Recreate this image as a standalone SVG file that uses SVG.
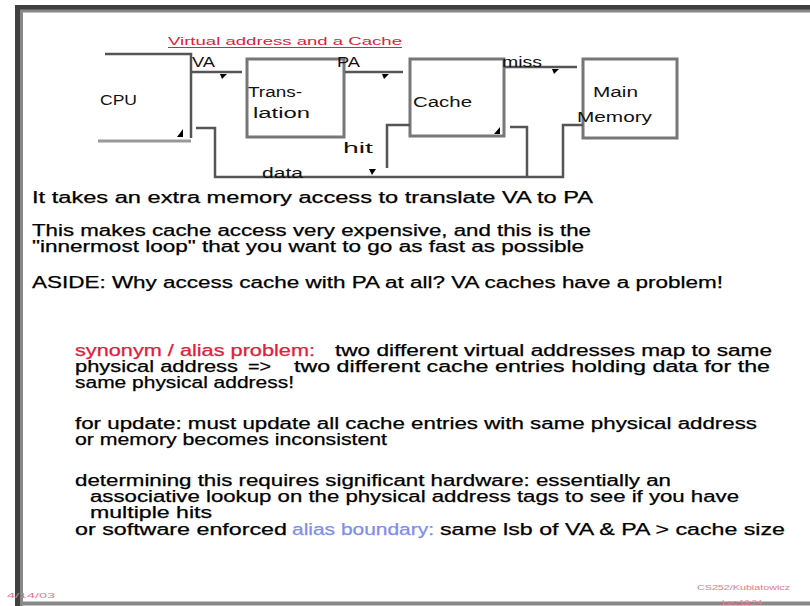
<svg xmlns="http://www.w3.org/2000/svg" width="810" height="606" viewBox="0 0 810 606">
<style>
.t{font-family:"Liberation Sans",Arial,sans-serif;font-size:16px;fill:#000;stroke:#000;stroke-width:0.25}
.d{font-family:"Liberation Sans",Arial,sans-serif;font-size:14px;fill:#111}
.box{fill:#fff;stroke:#777;stroke-width:3}
.ln{fill:none;stroke:#555;stroke-width:2.5}
.ah{fill:#000}
.red{fill:#e0203c;stroke:#e0203c}
.blue{fill:#7f8fe8;stroke:#7f8fe8}
.ft{font-family:"Liberation Sans",Arial,sans-serif;font-size:8px;fill:#e87890}
</style>
<rect width="810" height="606" fill="#fff"/>
<g id="frame">
<path d="M17.5 606 V7.5 H810" fill="none" stroke="#404040" stroke-width="5"/>
<path d="M21.5 606 V11 H810" fill="none" stroke="#888" stroke-width="3"/>
<line x1="20" y1="603.5" x2="810" y2="603.5" stroke="#888" stroke-width="4"/>
</g>
<g id="title">
<text x="168" y="45" font-family="Liberation Sans, Arial, sans-serif" font-size="11" class="red" stroke-width="0" textLength="234" lengthAdjust="spacingAndGlyphs">Virtual address and a Cache</text>
<line x1="168" y1="47.5" x2="402" y2="47.5" stroke="#e0203c" stroke-width="1"/>
</g>
<g id="cpu">
<path class="ln" d="M105 54 H191 V138"/>
<line x1="98" y1="141" x2="191" y2="141" stroke="#999" stroke-width="3"/>
<text class="d" x="100" y="105" textLength="37" lengthAdjust="spacingAndGlyphs">CPU</text>
</g>
<g id="translation">
<rect class="box" x="247" y="59" width="97" height="78"/>
<text class="d" x="248" y="97" textLength="54" lengthAdjust="spacingAndGlyphs">Trans-</text>
<text class="d" x="253" y="118" textLength="57" lengthAdjust="spacingAndGlyphs">lation</text>
</g>
<g id="cache">
<rect class="box" x="410" y="59" width="94" height="77"/>
<text class="d" x="413" y="107" textLength="59" lengthAdjust="spacingAndGlyphs">Cache</text>
</g>
<g id="memory">
<rect class="box" x="583" y="59" width="94" height="79"/>
<text class="d" x="593" y="97" textLength="45" lengthAdjust="spacingAndGlyphs">Main</text>
<text class="d" x="577" y="122" textLength="75" lengthAdjust="spacingAndGlyphs">Memory</text>
</g>
<g id="connectors">
<line class="ln" x1="192" y1="72" x2="242" y2="72"/>
<line class="ln" x1="345" y1="72" x2="403" y2="72"/>
<line class="ln" x1="505" y1="67" x2="577" y2="67"/>
<path class="ln" d="M196 128 H215 V177 H563 V125 H583"/>
<path class="ln" d="M387 168 V125 H410"/>
<path class="ln" d="M510 127 H527 V177"/>
<polygon class="ah" points="220,74 227,74 222,79"/>
<polygon class="ah" points="382,74 389,74 384,79"/>
<polygon class="ah" points="552,69 559,69 554,74"/>
<polygon class="ah" points="177,137 183,129 183,137"/>
<polygon class="ah" points="369,169 376,169 372,175"/>
<polygon class="ah" points="494,134 500,127 500,134"/>
<text class="d" x="192" y="67" textLength="23" lengthAdjust="spacingAndGlyphs">VA</text>
<text class="d" x="337" y="67" textLength="23" lengthAdjust="spacingAndGlyphs">PA</text>
<text class="d" x="502" y="67" textLength="40" lengthAdjust="spacingAndGlyphs">miss</text>
<text class="d" x="343" y="153" textLength="30" lengthAdjust="spacingAndGlyphs">hit</text>
<text class="d" x="262" y="178" textLength="41" lengthAdjust="spacingAndGlyphs">data</text>
</g>
<g id="body">
<text class="t" x="32" y="203" textLength="561" lengthAdjust="spacingAndGlyphs">It takes an extra  memory access to translate VA to PA</text>
<text class="t" x="32" y="236" textLength="559" lengthAdjust="spacingAndGlyphs">This makes cache access very expensive, and this is the</text>
<text class="t" x="32" y="252" textLength="552" lengthAdjust="spacingAndGlyphs">"innermost loop" that you want to go as fast as possible</text>
<text class="t" x="32" y="288" textLength="691" lengthAdjust="spacingAndGlyphs">ASIDE: Why access cache with PA at all?  VA caches have a problem!</text>
<text class="t red" x="75" y="356" textLength="240" lengthAdjust="spacingAndGlyphs">synonym / alias problem:</text>
<text class="t" x="335" y="356" textLength="437" lengthAdjust="spacingAndGlyphs">two different virtual addresses map to same</text>
<text class="t" x="75" y="372" textLength="163" lengthAdjust="spacingAndGlyphs">physical address</text>
<text class="t" x="248" y="372" textLength="23" lengthAdjust="spacingAndGlyphs">=&gt;</text>
<text class="t" x="294" y="372" textLength="476" lengthAdjust="spacingAndGlyphs">two different cache entries holding data for the</text>
<text class="t" x="75" y="388" textLength="219" lengthAdjust="spacingAndGlyphs">same physical address!</text>
<text class="t" x="75" y="429" textLength="682" lengthAdjust="spacingAndGlyphs">for update: must update all cache entries with same physical address</text>
<text class="t" x="75" y="445" textLength="312" lengthAdjust="spacingAndGlyphs">or memory becomes inconsistent</text>
<text class="t" x="75" y="486" textLength="596" lengthAdjust="spacingAndGlyphs">determining this requires significant hardware: essentially an</text>
<text class="t" x="90" y="502" textLength="649" lengthAdjust="spacingAndGlyphs">associative lookup on the physical address tags to see if you have</text>
<text class="t" x="90" y="518" textLength="122" lengthAdjust="spacingAndGlyphs">multiple hits</text>
<text class="t" x="75" y="535" textLength="212" lengthAdjust="spacingAndGlyphs">or software enforced</text>
<text class="t blue" x="292" y="535" textLength="142" lengthAdjust="spacingAndGlyphs">alias boundary:</text>
<text class="t" x="440" y="535" textLength="345" lengthAdjust="spacingAndGlyphs">same lsb of VA &amp; PA &gt; cache size</text>
</g>
<g id="footer">
<text class="ft" x="7" y="598" textLength="48" lengthAdjust="spacingAndGlyphs">4/14/03</text>
<text class="ft" x="697" y="590" textLength="93" lengthAdjust="spacingAndGlyphs">CS252/Kubiatowicz</text>
<text class="ft" x="722" y="605" textLength="40" lengthAdjust="spacingAndGlyphs">Lec 18.24</text>
</g>
</svg>
